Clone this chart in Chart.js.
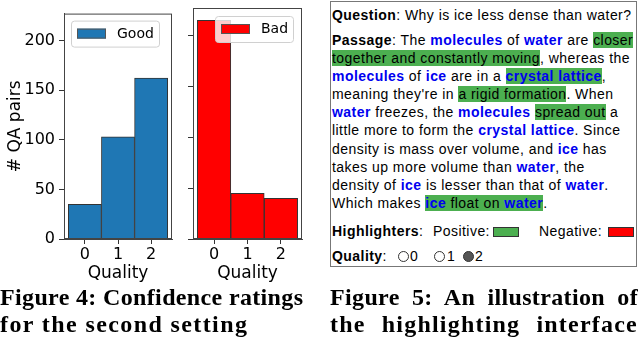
<!DOCTYPE html>
<html>
<head>
<meta charset="utf-8">
<script src="https://cdn.jsdelivr.net/npm/chart.js@4.4.1/dist/chart.umd.min.js"></script>
<style>
  body { margin: 0; width: 640px; height: 340px; background: #fff; position: relative; overflow: hidden; }
  #wrapGood { position: absolute; left: 0; top: 0; width: 180px; height: 285px; }
  #wrapBad { position: absolute; left: 180px; top: 0; width: 130px; height: 285px; }
  #panel { position: absolute; left: 330px; top: 1px; width: 307px; height: 266px; border: 1px solid #777;
           box-sizing: border-box; font-family: 'Liberation Sans', Arial, sans-serif; font-size: 14px; color: #000; }
  .blk { position: absolute; left: 1px; white-space: nowrap; line-height: 18.1px; letter-spacing: 0.45px; }
  .k { color: #0000f0; font-weight: bold; }
  .h { background: #4caf50; }
  .ab { position: absolute; top: 0; }
  .sw { position: absolute; top: 5px; width: 24px; height: 8px; border: 1px solid #333; }
  .rb { position: absolute; top: 4px; width: 9px; height: 9px; border: 1px solid #333; border-radius: 50%; }
  .cap { position: absolute; font-family: 'Liberation Serif', serif; font-weight: bold; font-size: 24px; line-height: 27px;
         white-space: nowrap; letter-spacing: 0.35px; }
</style>
</head>
<body>
<div id="wrapGood"><canvas id="goodChart"></canvas></div>
<div id="wrapBad"><canvas id="badChart"></canvas></div>

<div id="panel">
  <div class="blk" style="top:4px"><b>Question</b>: Why is ice less dense than water?</div>
  <div class="blk" style="top:29px">
    <div><b>Passage</b>: The <span class="k">molecules</span> of <span class="k">water</span> are <span class="h">closer</span></div>
    <div><span class="h">together and constantly moving</span>, whereas the</div>
    <div><span class="k">molecules</span> of <span class="k">ice</span> are in a <span class="h k">crystal lattice</span>,</div>
    <div>meaning they're in <span class="h">a rigid formation</span>. When</div>
    <div><span class="k">water</span> freezes, the <span class="k">molecules</span> <span class="h">spread out</span> a</div>
    <div>little more to form the <span class="k">crystal lattice</span>. Since</div>
    <div>density is mass over volume, and <span class="k">ice</span> has</div>
    <div>takes up more volume than <span class="k">water</span>, the</div>
    <div>density of <span class="k">ice</span> is lesser than that of <span class="k">water</span>.</div>
    <div>Which makes <span class="h"><span class="k">ice</span> float on <span class="k">water</span></span>.</div>
  </div>
  <div class="blk" style="top:220px; width:300px; height:18px">
    <span class="ab" style="left:0"><b>Highlighters</b>:</span>
    <span class="ab" style="left:101px">Positive:</span>
    <span class="sw" style="left:161px; background:#4caf50"></span>
    <span class="ab" style="left:207px">Negative:</span>
    <span class="sw" style="left:276px; background:#ff0000"></span>
  </div>
  <div class="blk" style="top:245px; width:300px; height:18px">
    <span class="ab" style="left:0"><b>Quality</b>:</span>
    <span class="rb" style="left:66px"></span><span class="ab" style="left:78px">0</span>
    <span class="rb" style="left:102px"></span><span class="ab" style="left:115px">1</span>
    <span class="rb" style="left:131px; background:#555"></span><span class="ab" style="left:143px">2</span>
  </div>
</div>

<div class="cap" style="left:0; top:284px">Figure 4: Confidence ratings</div>
<div class="cap" style="left:0; top:311px; letter-spacing:1.4px">for the second setting</div>
<div class="cap" style="left:330px; top:284px; width:308px; white-space:normal; text-align:justify; text-align-last:justify">Figure 5: An illustration of</div>
<div class="cap" style="left:330px; top:311px; letter-spacing:1.2px; word-spacing:9px">the highlighting interface</div>

<script>
// DATA
const categories = [0, 1, 2];
const goodCounts = [35, 103, 162];
const badCounts = [215, 45, 40];
const yTicks = [0, 50, 100, 150, 200];
const xTitle = 'Quality';
const yTitle = '# QA pairs';

// Plot frame (matplotlib-style spines on all four sides)
const framePlugin = {
    id: 'frame',
    afterDatasetsDraw(chart) {
        const a = chart.chartArea;
        const ctx = chart.ctx;
        ctx.save();
        ctx.strokeStyle = '#444';
        ctx.lineWidth = 1;
        ctx.strokeRect(a.left + 0.5, a.top + 0.5, a.right - a.left - 1, a.bottom - a.top - 1);
        ctx.restore();
    }
};

// Legend drawn inside the plot area, like matplotlib's
const boxLegend = {
    id: 'boxLegend',
    afterDatasetsDraw(chart, args, opts) {
        const ds = chart.data.datasets[0];
        const a = chart.chartArea;
        const ctx = chart.ctx;
        const w = opts.width, h = 26;
        const x = opts.align === 'right' ? a.right - opts.margin - w : a.left + opts.margin;
        const y = a.top + opts.top;
        ctx.save();
        ctx.fillStyle = 'rgba(255,255,255,0.8)';
        ctx.strokeStyle = '#d0d0d0';
        ctx.beginPath();
        ctx.roundRect(x + 0.5, y + 0.5, w, h, 3);
        ctx.fill();
        ctx.stroke();
        ctx.fillStyle = ds.backgroundColor;
        ctx.fillRect(x + 6, y + 8, 29, 10);
        ctx.strokeStyle = '#555';
        ctx.strokeRect(x + 6.5, y + 8.5, 28, 9);
        ctx.fillStyle = '#000';
        ctx.font = '14px "DejaVu Sans"';
        ctx.textBaseline = 'middle';
        ctx.fillText(ds.label, x + 46, y + 13.5);
        ctx.restore();
    }
};

function makeChart(id, label, values, color, showY, yWidth, legendOpts) {
    const ctx = document.getElementById(id).getContext('2d');
    return new Chart(ctx, {
        type: 'bar',
        data: {
            datasets: [{
                label: label,
                data: categories.map((c, i) => ({ x: c, y: values[i] })),
                backgroundColor: color,
                borderColor: '#333',
                borderWidth: 1,
                barPercentage: 1,
                categoryPercentage: 1
            }]
        },
        options: {
            responsive: true,
            maintainAspectRatio: false,
            animation: false,
            layout: { padding: { top: 8, right: 8, left: 0, bottom: 0 } },
            plugins: {
                legend: { display: false },
                tooltip: { enabled: false },
                boxLegend: legendOpts
            },
            scales: {
                x: {
                    type: 'linear',
                    min: -0.63,
                    max: 2.63,
                    offset: false,
                    grid: { display: true, drawOnChartArea: false, drawTicks: true, tickLength: 5, color: '#333', offset: false },
                    border: { color: '#444' },
                    ticks: { color: '#000', font: { family: 'DejaVu Sans', size: 16 }, padding: 1 },
                    afterBuildTicks: (s) => { s.ticks = categories.map(v => ({ value: v })); },
                    afterFit: (s) => { s.height = 46; },
                    title: { display: true, text: xTitle, color: '#000', font: { family: 'DejaVu Sans', size: 17 }, padding: { top: 1, bottom: 1 } }
                },
                y: {
                    min: 0,
                    max: 227,
                    grid: { display: true, drawOnChartArea: false, drawTicks: true, tickLength: 5, color: '#333' },
                    border: { color: '#444' },
                    ticks: { display: showY, color: '#000', font: { family: 'DejaVu Sans', size: 16 }, padding: 4 },
                    afterBuildTicks: (s) => { s.ticks = yTicks.map(v => ({ value: v })); },
                    afterFit: (s) => { s.width = yWidth; },
                    title: { display: showY, text: yTitle, color: '#000', font: { family: 'DejaVu Sans', size: 17 }, padding: { top: 5, bottom: 2 } }
                }
            }
        },
        plugins: [framePlugin, boxLegend]
    });
}

makeChart('goodChart', 'Good', goodCounts, '#1f77b4', true, 64, { align: 'left', margin: 7, top: 7, width: 88 });
makeChart('badChart', 'Bad', badCounts, '#ff0000', false, 13, { align: 'right', margin: 9, top: 8, width: 78 });
</script>
</body>
</html>
